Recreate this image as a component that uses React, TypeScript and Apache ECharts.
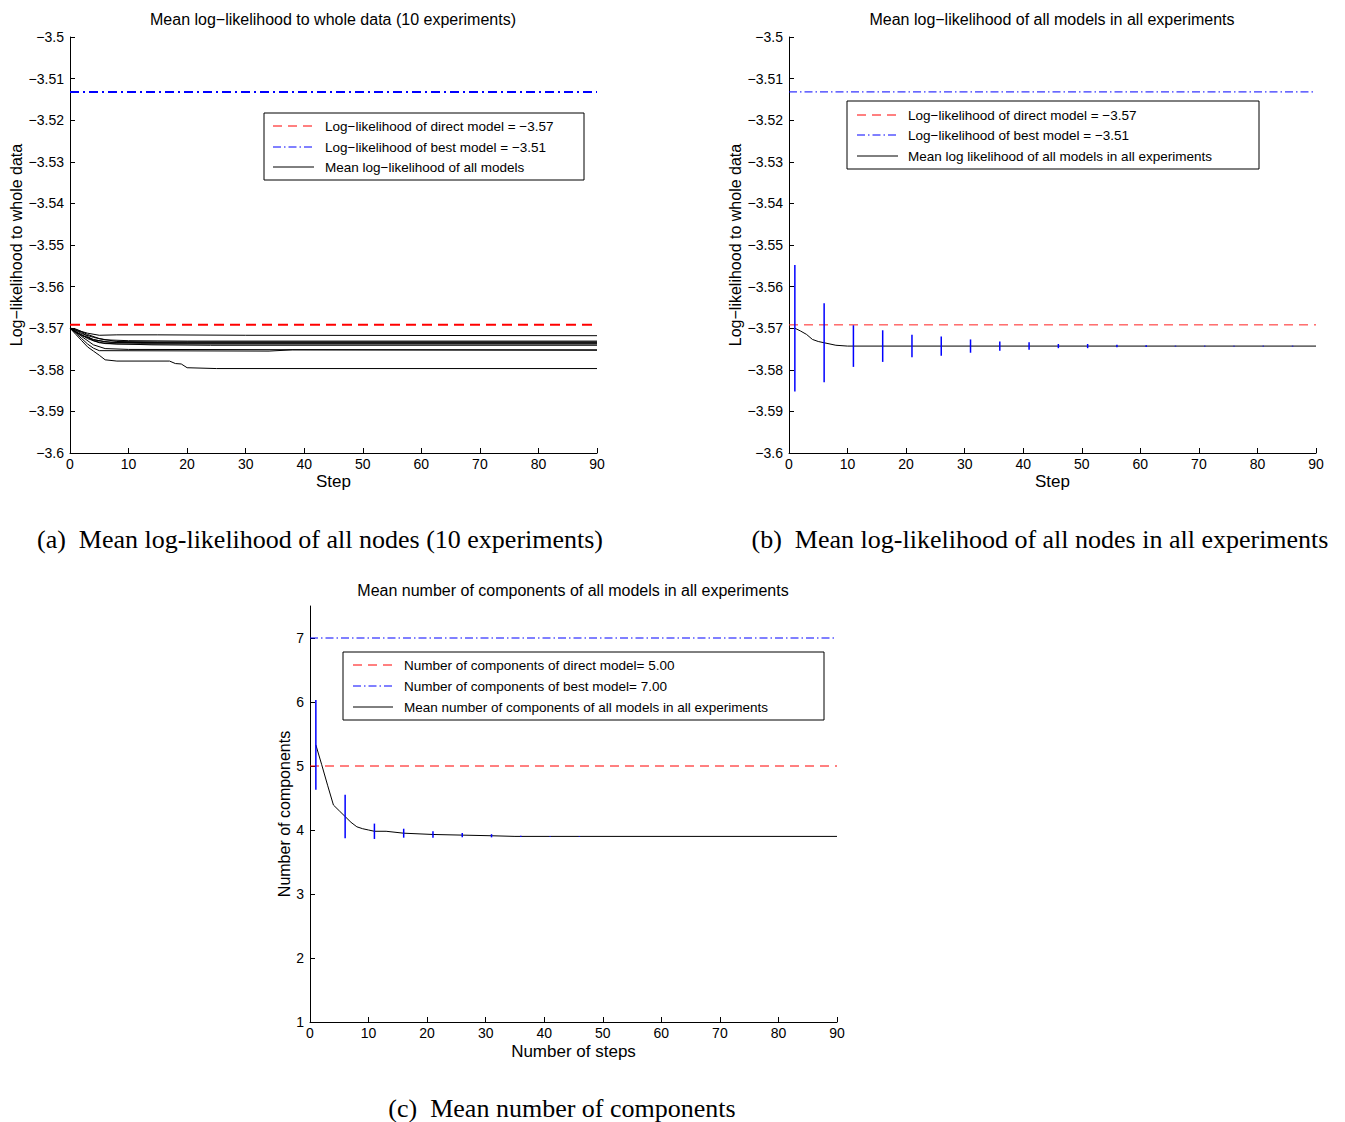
import React, { useEffect, useRef } from "react";
import * as echarts from "echarts";

// ---- reference levels ----
const directLL = -3.5692;
const bestLL = -3.5132;
const directComp = 5;
const bestComp = 7;

// ---- axis ticks ----
const stepTicks = [0, 10, 20, 30, 40, 50, 60, 70, 80, 90];
const llTicks = [-3.6, -3.59, -3.58, -3.57, -3.56, -3.55, -3.54, -3.53, -3.52, -3.51, -3.5];
const llTickLabels = ["−3.6", "−3.59", "−3.58", "−3.57", "−3.56", "−3.55", "−3.54", "−3.53", "−3.52", "−3.51", "−3.5"];
const compTicks = [1, 2, 3, 4, 5, 6, 7];
const compTickLabels = ["1", "2", "3", "4", "5", "6", "7"];

// ---- (a) mean log-likelihood per experiment: [step, value] ----
const exp1 = [[0, -3.57], [1, -3.5703], [2, -3.5708], [3, -3.5712], [5, -3.5717], [8, -3.5716], [15, -3.5716], [30, -3.5717], [90, -3.5718]];
const exp2 = [[0, -3.57], [1, -3.5705], [2, -3.5713], [4, -3.5722], [6, -3.5728], [10, -3.573], [20, -3.5731], [90, -3.5731]];
const exp3 = [[0, -3.57], [1, -3.5702], [3, -3.5715], [5, -3.5725], [8, -3.5732], [15, -3.5733], [90, -3.5733]];
const exp4 = [[0, -3.57], [2, -3.571], [3, -3.572], [4, -3.5728], [7, -3.5734], [20, -3.5735], [90, -3.5735]];
const exp5 = [[0, -3.57], [1, -3.5708], [2, -3.5718], [4, -3.5727], [6, -3.5733], [12, -3.5736], [90, -3.5736]];
const exp6 = [[0, -3.57], [2, -3.5716], [3, -3.5725], [5, -3.5735], [8, -3.5738], [90, -3.5738]];
const exp7 = [[0, -3.57], [1, -3.571], [3, -3.5722], [4, -3.573], [6, -3.5737], [14, -3.574], [24, -3.5741], [90, -3.5741]];
const exp8 = [[0, -3.57], [1, -3.5712], [2, -3.5725], [3, -3.5738], [4, -3.5748], [5, -3.5754], [34, -3.5755], [38, -3.5752], [90, -3.5752]];
const exp9 = [[0, -3.57], [2, -3.572], [4, -3.574], [6, -3.5749], [10, -3.5751], [90, -3.5753]];
const exp10 = [[0, -3.57], [1, -3.5715], [2, -3.573], [3, -3.5745], [4, -3.5755], [5, -3.5765], [6, -3.5776], [8, -3.5779], [17, -3.5779], [18, -3.5785], [19, -3.5786], [20, -3.5795], [25, -3.5797], [90, -3.5797]];
const experiments = [exp1, exp2, exp3, exp4, exp5, exp6, exp7, exp8, exp9, exp10];

// ---- (b) mean over all experiments ----
const meanLL = [[1, -3.57], [2, -3.5707], [3, -3.5715], [4, -3.5727], [5, -3.5732], [6, -3.5735], [7, -3.5738], [8, -3.5741], [10, -3.5743], [90, -3.5743]];
const errSteps = [1, 6, 11, 16, 21, 26, 31, 36, 41, 46, 51, 56, 61, 66, 71, 76, 81, 86];
const errCenterLL = [-3.57, -3.5735, -3.5743, -3.5743, -3.5743, -3.5743, -3.5743, -3.5743, -3.5743, -3.5743, -3.5743, -3.5743, -3.5743, -3.5743, -3.5743, -3.5743, -3.5743, -3.5743];
const errHalfLL = [0.0152, 0.0095, 0.005, 0.0038, 0.0027, 0.0023, 0.0016, 0.0011, 0.0009, 0.0005, 0.0005, 0.0003, 0.0002, 0.0001, 0.0001, 0.0001, 0.0001, 0.0001];

// ---- (c) mean number of components ----
const meanComp = [[1, 5.33], [2, 5.02], [3, 4.7], [4, 4.39], [5, 4.3], [6, 4.21], [7, 4.12], [8, 4.05], [9, 4.02], [10, 4.0], [11, 3.98], [13, 3.98], [16, 3.95], [21, 3.93], [26, 3.92], [31, 3.91], [35, 3.9], [90, 3.9]];
const errCenterComp = [5.33, 4.21, 3.98, 3.95, 3.93, 3.92, 3.91, 3.9, 3.9, 3.9, 3.9, 3.9, 3.9, 3.9, 3.9, 3.9, 3.9, 3.9];
const errHalfComp = [0.7, 0.34, 0.12, 0.07, 0.05, 0.035, 0.025, 0.01, 0.005, 0.005, 0, 0, 0, 0, 0, 0, 0, 0];

const SANS = '"Liberation Sans", Arial, Helvetica, sans-serif';
const SERIF = '"Liberation Serif", "Times New Roman", serif';

const lookup = (ticks: number[], labels: string[]) => (v: number) => {
  for (let i = 0; i < ticks.length; i++) if (Math.abs(ticks[i] - v) < 1e-7) return labels[i];
  return "";
};

const xAxisFor = (gridIndex: number, name: string, nameGap: number) => ({
  type: "value",
  gridIndex,
  min: stepTicks[0],
  max: stepTicks[stepTicks.length - 1],
  interval: 10,
  name,
  nameLocation: "middle",
  nameGap,
  nameTextStyle: { fontFamily: SANS, fontSize: 17, color: "#000" },
  axisLine: { show: true, onZero: false, lineStyle: { color: "#000", width: 1 } },
  axisTick: { show: true, inside: true, length: 5, lineStyle: { color: "#000", width: 1 } },
  axisLabel: { color: "#000", fontSize: 14, fontFamily: SANS, margin: 4, formatter: (v: number) => String(v) },
  splitLine: { show: false },
});

const yAxisFor = (gridIndex: number, min: number, max: number, ticks: number[], labels: string[], name: string, nameGap: number) => ({
  type: "value",
  gridIndex,
  min,
  max,
  name,
  nameLocation: "middle",
  nameGap,
  nameTextStyle: { fontFamily: SANS, fontSize: 16, color: "#000" },
  axisLine: { show: true, onZero: false, lineStyle: { color: "#000", width: 1 } },
  axisTick: { show: true, inside: true, length: 5, customValues: ticks, lineStyle: { color: "#000", width: 1 } },
  axisLabel: { color: "#000", fontSize: 14, fontFamily: SANS, margin: 6, customValues: ticks, formatter: lookup(ticks, labels) },
  splitLine: { show: false },
});

const hLine = (g: number, value: number, color: string, width: number, dash: number[], z = 2) => ({
  type: "line",
  xAxisIndex: g,
  yAxisIndex: g,
  data: [[0, value], [90, value]],
  symbol: "none",
  silent: true,
  z,
  lineStyle: { color, width, type: dash },
});

const curve = (g: number, data: number[][], color = "#000", width = 1) => ({
  type: "line",
  xAxisIndex: g,
  yAxisIndex: g,
  data,
  symbol: "none",
  silent: true,
  z: 3,
  lineStyle: { color, width },
});

const errorBars = (g: number, centers: number[], halves: number[], width: number) => ({
  type: "custom",
  xAxisIndex: g,
  yAxisIndex: g,
  silent: true,
  z: 4,
  data: errSteps.map((s, i) => [s, centers[i] - halves[i], centers[i] + halves[i]]),
  encode: { x: 0, y: [1, 2] },
  renderItem: (_params: any, api: any) => {
    const p1 = api.coord([api.value(0), api.value(1)]);
    const p2 = api.coord([api.value(0), api.value(2)]);
    return {
      type: "line",
      shape: { x1: p1[0], y1: p1[1], x2: p2[0], y2: p2[1] },
      style: { stroke: "#0000ff", lineWidth: width },
    };
  },
});

const text = (x: number, y: number, t: string, size: number, family: string, align = "left") => ({
  type: "text",
  x,
  y,
  z: 20,
  style: { text: t, fill: "#000", fontSize: size, fontFamily: family, align, verticalAlign: "middle" },
});

const sample = (x1: number, x2: number, y: number, color: string, dash: number[] | null) => ({
  type: "line",
  z: 20,
  shape: { x1, y1: y, x2, y2: y },
  style: { stroke: color, lineWidth: 1, lineDash: dash || undefined },
});

const legendBox = (x: number, y: number, w: number, h: number, rows: { label: string; color: string; dash: number[] | null }[], rowY: number[], sx1: number, sx2: number, tx: number) => {
  const els: any[] = [
    { type: "rect", z: 19, shape: { x, y, width: w, height: h }, style: { fill: "#fff", stroke: "#000", lineWidth: 1 } },
  ];
  rows.forEach((r, i) => {
    els.push(sample(sx1, sx2, rowY[i], r.color, r.dash));
    els.push(text(tx, rowY[i], r.label, 13.5, SANS));
  });
  return els;
};

const DASH = [9, 6];
const DASHDOT = [8, 3, 1.5, 3];

export default function App() {
  const ref = useRef<HTMLDivElement>(null);

  useEffect(() => {
    if (!ref.current) return;
    const chart = echarts.init(ref.current, undefined, { renderer: "svg" });

    const graphics: any[] = [
      text(333, 19, "Mean log−likelihood to whole data (10 experiments)", 16, SANS, "center"),
      text(1052, 19, "Mean log−likelihood of all models in all experiments", 16, SANS, "center"),
      text(573, 590, "Mean number of components of all models in all experiments", 16, SANS, "center"),
      text(320, 539, "(a)  Mean log-likelihood of all nodes (10 experiments)", 26, SERIF, "center"),
      text(1040, 539, "(b)  Mean log-likelihood of all nodes in all experiments", 26, SERIF, "center"),
      text(562, 1108, "(c)  Mean number of components", 26, SERIF, "center"),
      ...legendBox(264, 113, 320, 67, [
        { label: "Log−likelihood of direct model = −3.57", color: "#ff0000", dash: DASH },
        { label: "Log−likelihood of best model = −3.51", color: "#0000ff", dash: DASHDOT },
        { label: "Mean log−likelihood of all models", color: "#000", dash: null },
      ], [126, 147, 167], 273, 314, 325),
      ...legendBox(847, 101, 412, 68, [
        { label: "Log−likelihood of direct model = −3.57", color: "#ff0000", dash: DASH },
        { label: "Log−likelihood of best model = −3.51", color: "#0000ff", dash: DASHDOT },
        { label: "Mean log likelihood of all models in all experiments", color: "#000", dash: null },
      ], [115, 135, 156], 857, 898, 908),
      ...legendBox(343, 652, 481, 68, [
        { label: "Number of components of direct model= 5.00", color: "#ff0000", dash: DASH },
        { label: "Number of components of best model= 7.00", color: "#0000ff", dash: DASHDOT },
        { label: "Mean number of components of all models in all experiments", color: "#000", dash: null },
      ], [665, 686, 707], 353, 393, 404),
    ];

    chart.setOption({
      animation: false,
      backgroundColor: "#fff",
      grid: [
        { left: 70, top: 37, width: 527, height: 416 },
        { left: 789, top: 37, width: 527, height: 416 },
        { left: 310, top: 606, width: 527, height: 416 },
      ],
      xAxis: [
        xAxisFor(0, "Step", 20),
        xAxisFor(1, "Step", 20),
        xAxisFor(2, "Number of steps", 21),
      ],
      yAxis: [
        yAxisFor(0, llTicks[0], llTicks[llTicks.length - 1], llTicks, llTickLabels, "Log−likelihood to whole data", 46),
        yAxisFor(1, llTicks[0], llTicks[llTicks.length - 1], llTicks, llTickLabels, "Log−likelihood to whole data", 46),
        yAxisFor(2, 1, 7.5, compTicks, compTickLabels, "Number of components", 18),
      ],
      series: [
        ...experiments.map((e) => curve(0, e, "#000", 1)),
        hLine(0, directLL, "#ff0000", 2, [10, 6]),
        hLine(0, bestLL, "#0000ff", 2, [9, 4, 2, 4]),
        hLine(1, directLL, "#ff2020", 1, DASH),
        hLine(1, bestLL, "#0000ff", 1, DASHDOT),
        curve(1, meanLL),
        errorBars(1, errCenterLL, errHalfLL, 1.5),
        hLine(2, directComp, "#ff0000", 1, DASH),
        hLine(2, bestComp, "#0000ff", 1, DASHDOT),
        curve(2, meanComp),
        errorBars(2, errCenterComp, errHalfComp, 1.5),
      ],
      graphic: graphics,
    });

    return () => chart.dispose();
  }, []);

  return <div ref={ref} style={{ position: "absolute", left: 0, top: 0, width: 1345, height: 1122 }} />;
}
